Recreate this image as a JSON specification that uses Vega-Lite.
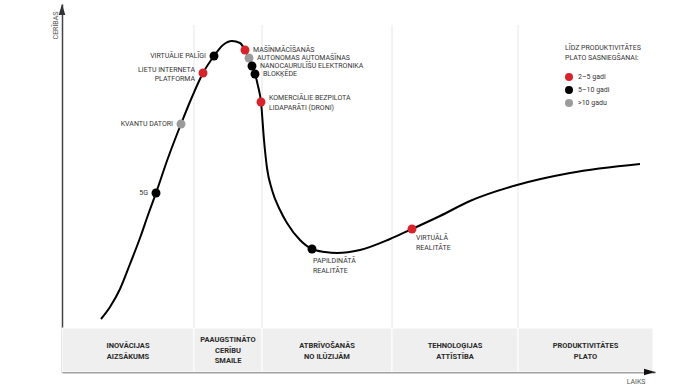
{
  "$schema": "https://vega.github.io/schema/vega-lite/v6.json",
  "width": 593,
  "height": 368,
  "autosize": {"type": "none"},
  "padding": {"left": 62, "top": 4, "right": 45, "bottom": 13},
  "background": "white",
  "config": {
    "view": {"stroke": null},
    "font": "Roboto",
    "text": {"font": "Roboto", "fontSize": 7, "color": "#333", "lineBreak": "\n", "lineHeight": 10},
    "legend": {
      "orient": "none",
      "legendX": 503,
      "legendY": 40,
      "titleFont": "Roboto",
      "titleFontSize": 7,
      "titleFontWeight": "normal",
      "titleColor": "#333",
      "titleLineHeight": 10,
      "titlePadding": 12,
      "labelFont": "Roboto",
      "labelFontSize": 7,
      "labelColor": "#333",
      "symbolSize": 64,
      "symbolType": "circle",
      "symbolStrokeWidth": 0,
      "rowPadding": 5,
      "labelOffset": 5
    }
  },
  "datasets": {
    "curve": [
      {"t": 39, "e": 53}, {"t": 48, "e": 65}, {"t": 58, "e": 83}, {"t": 68, "e": 108},
      {"t": 78, "e": 134}, {"t": 86, "e": 157}, {"t": 94, "e": 179}, {"t": 106, "e": 214}, {"t": 119, "e": 248},
      {"t": 130, "e": 275}, {"t": 141, "e": 299}, {"t": 152, "e": 316}, {"t": 161, "e": 327},
      {"t": 170, "e": 331}, {"t": 178, "e": 329}, {"t": 183, "e": 322}, {"t": 187, "e": 314},
      {"t": 190, "e": 306}, {"t": 193, "e": 298}, {"t": 196, "e": 286}, {"t": 199, "e": 270},
      {"t": 202, "e": 232}, {"t": 205, "e": 204}, {"t": 210, "e": 182}, {"t": 218, "e": 162},
      {"t": 225, "e": 149}, {"t": 238, "e": 132}, {"t": 250, "e": 123}, {"t": 263, "e": 120},
      {"t": 275, "e": 119}, {"t": 298, "e": 122}, {"t": 328, "e": 133}, {"t": 350, "e": 143},
      {"t": 378, "e": 156}, {"t": 408, "e": 171}, {"t": 455, "e": 187}, {"t": 508, "e": 199},
      {"t": 578, "e": 208}
    ],
    "points": [
      {"label": "5G", "t": 94, "e": 179, "g": "5–10 gadi"},
      {"label": "KVANTU DATORI", "t": 119, "e": 248, "g": ">10 gadu"},
      {"label": "LIETU INTERNETA\nPLATFORMA", "t": 141, "e": 299, "g": "2–5 gadi"},
      {"label": "VIRTUĀLIE PALĪGI", "t": 152, "e": 316, "g": "5–10 gadi"},
      {"label": "MAŠĪNMĀCĪŠANĀS", "t": 183, "e": 322, "g": "2–5 gadi"},
      {"label": "AUTONOMAS AUTOMAŠĪNAS", "t": 187, "e": 314, "g": ">10 gadu"},
      {"label": "NANOCAURULĪŠU ELEKTRONIKA", "t": 190, "e": 306, "g": "5–10 gadi"},
      {"label": "BLOKĶĒDE", "t": 193, "e": 298, "g": "5–10 gadi"},
      {"label": "KOMERCIĀLIE BEZPILOTA\nLIDAPARĀTI (DRONI)", "t": 199, "e": 270, "g": "2–5 gadi"},
      {"label": "PAPILDINĀTĀ\nREALITĀTE", "t": 250, "e": 123, "g": "5–10 gadi"},
      {"label": "VIRTUĀLĀ\nREALITĀTE", "t": 350, "e": 143, "g": "2–5 gadi"}
    ],
    "phases": [
      {"name": "INOVĀCIJAS\nAIZSĀKUMS", "start": 0, "end": 132, "mid": 66},
      {"name": "PAAUGSTINĀTO\nCERĪBU\nSMAILE", "start": 132, "end": 200, "mid": 166},
      {"name": "ATBRĪVOŠANĀS\nNO ILŪZIJĀM", "start": 200, "end": 330, "mid": 265},
      {"name": "TEHNOLOĢIJAS\nATTĪSTĪBA", "start": 330, "end": 456, "mid": 393},
      {"name": "PRODUKTIVITĀTES\nPLATO", "start": 456, "end": 591, "mid": 523.5}
    ],
    "arrows": [
      {"t": 0, "e": 362.5, "dir": "up"},
      {"t": 587.5, "e": 0, "dir": "right"}
    ]
  },
  "layer": [
    {
      "data": {"name": "phases"},
      "mark": {"type": "rect", "color": "#efefef", "stroke": "white", "strokeWidth": 1},
      "encoding": {
        "x": {"field": "start", "type": "quantitative", "scale": {"domain": [0, 593], "nice": false, "zero": false},
          "axis": {"domain": true, "domainColor": "#444", "domainWidth": 1.5, "ticks": false, "labels": false, "grid": false,
            "title": "LAIKS", "titleFont": "Roboto", "titleFontSize": 7, "titleFontWeight": "normal", "titleColor": "#555",
            "titleX": 583, "titleY": 9, "titleAlign": "right", "titleBaseline": "middle", "titleAnchor": null}},
        "x2": {"field": "end"},
        "y": {"datum": 0, "type": "quantitative", "scale": {"domain": [0, 368], "nice": false, "zero": false},
          "axis": {"domain": true, "domainColor": "#444", "domainWidth": 1.5, "ticks": false, "labels": false, "grid": false,
            "title": "CERĪBAS", "titleFont": "Roboto", "titleFontSize": 7, "titleFontWeight": "normal", "titleColor": "#555",
            "titleX": -7, "titleY": 21, "titleAngle": -90, "titleAlign": "center", "titleBaseline": "middle", "titleAnchor": null}},
        "y2": {"datum": 44}
      }
    },
    {
      "data": {"name": "phases"},
      "transform": [{"filter": "datum.start > 0"}],
      "mark": {"type": "rule", "color": "#e6e6e6", "strokeWidth": 1},
      "encoding": {
        "x": {"field": "start", "type": "quantitative"},
        "y": {"datum": 44, "type": "quantitative"},
        "y2": {"datum": 347}
      }
    },
    {
      "data": {"name": "phases"},
      "transform": [{"filter": "indexof(datum.name, 'SMAILE') < 0"}],
      "mark": {"type": "text", "fontWeight": "bold", "fontSize": 7.5, "color": "#2a2a2a", "align": "center", "baseline": "middle", "lineHeight": 11, "dy": -5.5},
      "encoding": {
        "x": {"field": "mid", "type": "quantitative"},
        "y": {"datum": 21, "type": "quantitative"},
        "text": {"field": "name"}
      }
    },
    {
      "data": {"name": "phases"},
      "transform": [{"filter": "indexof(datum.name, 'SMAILE') >= 0"}],
      "mark": {"type": "text", "fontWeight": "bold", "fontSize": 7.5, "color": "#2a2a2a", "align": "center", "baseline": "middle", "lineHeight": 10.5, "dy": -11},
      "encoding": {
        "x": {"field": "mid", "type": "quantitative"},
        "y": {"datum": 21, "type": "quantitative"},
        "text": {"field": "name"}
      }
    },
    {
      "data": {"name": "arrows"},
      "transform": [{"filter": "datum.dir == 'up'"}],
      "mark": {"type": "point", "filled": true, "color": "#333", "opacity": 1, "size": 121, "shape": "M0,-1L0.6,1L-0.6,1Z"},
      "encoding": {
        "x": {"field": "t", "type": "quantitative"},
        "y": {"field": "e", "type": "quantitative"}
      }
    },
    {
      "data": {"name": "arrows"},
      "transform": [{"filter": "datum.dir == 'right'"}],
      "mark": {"type": "point", "filled": true, "color": "#111", "opacity": 1, "size": 121, "shape": "M1,0L-1,0.6L-1,-0.6Z"},
      "encoding": {
        "x": {"field": "t", "type": "quantitative"},
        "y": {"field": "e", "type": "quantitative"}
      }
    },
    {
      "data": {"name": "curve"},
      "mark": {"type": "line", "color": "#000", "strokeWidth": 2, "interpolate": "monotone"},
      "encoding": {
        "x": {"field": "t", "type": "quantitative"},
        "y": {"field": "e", "type": "quantitative"}
      }
    },
    {
      "data": {"name": "points"},
      "mark": {"type": "point", "filled": true, "opacity": 1, "size": 80, "shape": "circle"},
      "encoding": {
        "x": {"field": "t", "type": "quantitative"},
        "y": {"field": "e", "type": "quantitative"},
        "color": {"field": "g", "type": "nominal",
          "scale": {"domain": ["2–5 gadi", "5–10 gadi", ">10 gadu"], "range": ["#d7232b", "#000000", "#9b9b9b"]},
          "legend": {"title": ["LĪDZ PRODUKTIVITĀTES", "PLATO SASNIEGŠANAI:"]}}
      }
    },
    {
      "data": {"name": "points"},
      "transform": [{"filter": {"field": "label", "oneOf": ["5G", "KVANTU DATORI", "VIRTUĀLIE PALĪGI"]}}],
      "mark": {"type": "text", "align": "right", "baseline": "middle", "dx": -8},
      "encoding": {
        "x": {"field": "t", "type": "quantitative"},
        "y": {"field": "e", "type": "quantitative"},
        "text": {"field": "label"}
      }
    },
    {
      "data": {"name": "points"},
      "transform": [{"filter": {"field": "label", "oneOf": ["LIETU INTERNETA\nPLATFORMA"]}}],
      "mark": {"type": "text", "align": "right", "baseline": "middle", "dx": -8, "dy": -3.5, "lineHeight": 9.5},
      "encoding": {
        "x": {"field": "t", "type": "quantitative"},
        "y": {"field": "e", "type": "quantitative"},
        "text": {"field": "label"}
      }
    },
    {
      "data": {"name": "points"},
      "transform": [{"filter": {"field": "label", "oneOf": ["MAŠĪNMĀCĪŠANĀS", "AUTONOMAS AUTOMAŠĪNAS", "NANOCAURULĪŠU ELEKTRONIKA", "BLOKĶĒDE"]}}],
      "mark": {"type": "text", "align": "left", "baseline": "middle", "dx": 8},
      "encoding": {
        "x": {"field": "t", "type": "quantitative"},
        "y": {"field": "e", "type": "quantitative"},
        "text": {"field": "label"}
      }
    },
    {
      "data": {"name": "points"},
      "transform": [{"filter": {"field": "label", "oneOf": ["KOMERCIĀLIE BEZPILOTA\nLIDAPARĀTI (DRONI)"]}}],
      "mark": {"type": "text", "align": "left", "baseline": "middle", "dx": 8, "dy": -4},
      "encoding": {
        "x": {"field": "t", "type": "quantitative"},
        "y": {"field": "e", "type": "quantitative"},
        "text": {"field": "label"}
      }
    },
    {
      "data": {"name": "points"},
      "transform": [{"filter": {"field": "label", "oneOf": ["PAPILDINĀTĀ\nREALITĀTE"]}}],
      "mark": {"type": "text", "align": "left", "baseline": "middle", "dx": 1, "dy": 12},
      "encoding": {
        "x": {"field": "t", "type": "quantitative"},
        "y": {"field": "e", "type": "quantitative"},
        "text": {"field": "label"}
      }
    },
    {
      "data": {"name": "points"},
      "transform": [{"filter": {"field": "label", "oneOf": ["VIRTUĀLĀ\nREALITĀTE"]}}],
      "mark": {"type": "text", "align": "left", "baseline": "middle", "dx": 4, "dy": 9},
      "encoding": {
        "x": {"field": "t", "type": "quantitative"},
        "y": {"field": "e", "type": "quantitative"},
        "text": {"field": "label"}
      }
    }
  ]
}
